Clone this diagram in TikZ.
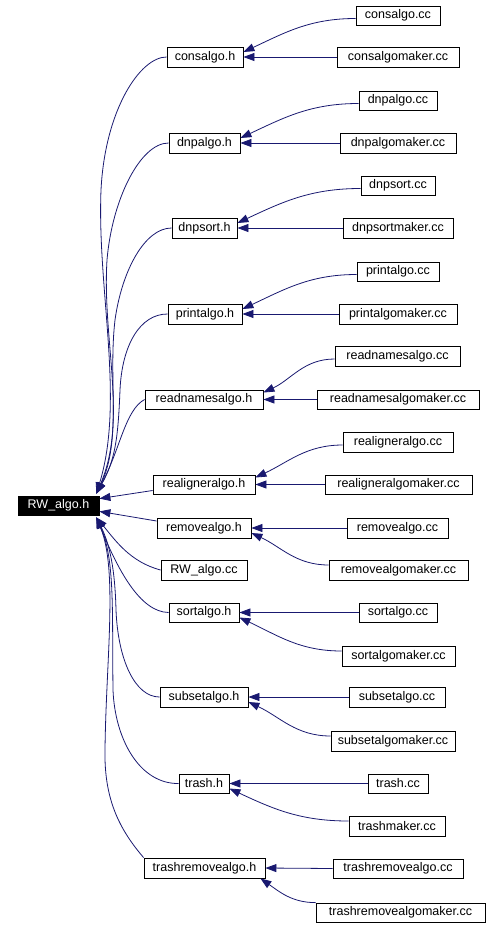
\documentclass[tikz,border=0pt]{standalone}
\usepackage{fontspec}
\setmainfont{Liberation Sans}
\usetikzlibrary{arrows.meta}
\definecolor{edgeblue}{RGB}{25,25,112}
\tikzset{
  box/.style={draw=black, line width=0.8pt, inner sep=0pt, font=\fontsize{12.5}{14}\selectfont},
  rootbox/.style={box, fill=black, text=white},
  edge/.style={draw=edgeblue, line width=0.8pt, -{Triangle[length=11pt,width=8pt]}},
}
\newcommand{\bx}[7][box]{\node[#1, minimum width={#5pt-#3pt}, minimum height={#6pt-#4pt}] (#2) at ({(#3+#5)/2},{(#4+#6)/2}) {#7};}
\begin{document}
\begin{tikzpicture}[x=1pt,y=-1pt]
\useasboundingbox (0,0) rectangle (497,926);
% root
\bx[rootbox]{rw}{18}{496}{99}{515}{RW\_algo.h}
% middle column
\bx{consh}{167}{47}{243}{67}{consalgo.h}
\bx{dnpah}{169}{133}{240}{153}{dnpalgo.h}
\bx{dnpsh}{172}{218}{237}{238}{dnpsort.h}
\bx{printh}{168}{304}{242}{324}{printalgo.h}
\bx{readh}{145}{390}{263}{409}{readnamesalgo.h}
\bx{realh}{153}{475}{255}{494}{realigneralgo.h}
\bx{removeh}{157}{518}{251}{538}{removealgo.h}
\bx{rwcc}{161}{560}{247}{580}{RW\_algo.cc}
\bx{sorth}{169}{603}{239}{622}{sortalgo.h}
\bx{subseth}{160}{687}{248}{707}{subsetalgo.h}
\bx{trashh}{179}{774}{229}{793}{trash.h}
\bx{trashremh}{144}{858}{265}{878}{trashremovealgo.h}
% right column
\bx{conscc}{356}{6}{440}{25}{consalgo.cc}
\bx{consmk}{337}{47}{459}{67}{consalgomaker.cc}
\bx{dnpacc}{359}{91}{437}{110}{dnpalgo.cc}
\bx{dnpamk}{340}{133}{456}{153}{dnpalgomaker.cc}
\bx{dnpscc}{361}{176}{435}{195}{dnpsort.cc}
\bx{dnpsmk}{343}{218}{453}{238}{dnpsortmaker.cc}
\bx{printcc}{357}{262}{439}{281}{printalgo.cc}
\bx{printmk}{339}{304}{457}{324}{printalgomaker.cc}
\bx{readcc}{335}{346}{460}{366}{readnamesalgo.cc}
\bx{readmk}{317}{390}{479}{409}{readnamesalgomaker.cc}
\bx{realcc}{343}{432}{453}{452}{realigneralgo.cc}
\bx{realmk}{325}{475}{472}{494}{realigneralgomaker.cc}
\bx{removecc}{347}{518}{448}{538}{removealgo.cc}
\bx{removemk}{329}{560}{468}{580}{removealgomaker.cc}
\bx{sortcc}{359}{603}{437}{622}{sortalgo.cc}
\bx{sortmk}{342}{646}{455}{666}{sortalgomaker.cc}
\bx{subsetcc}{349}{687}{445}{707}{subsetalgo.cc}
\bx{subsetmk}{331}{731}{455}{751}{subsetalgomaker.cc}
\bx{trashcc}{368}{774}{428}{793}{trash.cc}
\bx{trashmk}{349}{816}{445}{836}{trashmaker.cc}
\bx{trashremcc}{333}{859}{463}{878}{trashremovealgo.cc}
\bx{trashremmk}{316}{903}{485}{922}{trashremovealgomaker.cc}
% right edges, upper groups (.cc above)
\foreach \cc/\mk/\p/\s in {conscc/consmk/consh/5, dnpacc/dnpamk/dnpah/5, dnpscc/dnpsmk/dnpsh/5, printcc/printmk/printh/5, readcc/readmk/readh/7, realcc/realmk/realh/7}{
  \draw[edge] ([yshift=-3pt]\cc.west) to[out=180,in=25] ([yshift=\s pt]\p.east);
  \draw[edge] (\mk.west) -- (\p.east);
}
% right edges, lower groups (maker below)
\foreach \cc/\mk/\p in {removecc/removemk/removeh, sortcc/sortmk/sorth, subsetcc/subsetmk/subseth, trashcc/trashmk/trashh}{
  \draw[edge] (\cc.west) -- (\p.east);
  \draw[edge] ([yshift=5pt]\mk.west) to[out=180,in=-25] ([yshift=-5pt]\p.east);
}
\draw[edge] (trashremcc.west) -- (trashremh.east);
\draw[edge] (trashremmk.north west) to[out=180,in=-35] ([xshift=-5pt]trashremh.south east);
% left edges, upper bundle
\draw[edge] (consh.west) .. controls (140,57) and (105,110) .. (101,190) .. controls (97,290) and (125,400) .. ([xshift=-3pt,yshift=2pt]rw.north east);
\draw[edge] (dnpah.west) .. controls (140,143) and (112,200) .. (107,260) .. controls (102,340) and (128,420) .. ([xshift=-3pt,yshift=2pt]rw.north east);
\draw[edge] (dnpsh.west) .. controls (145,228) and (122,270) .. (115,320) .. controls (108,380) and (122,440) .. ([xshift=-3pt,yshift=2pt]rw.north east);
\draw[edge] (printh.west) .. controls (140,314) and (122,345) .. (120,390) .. controls (118,440) and (115,460) .. ([xshift=-3pt,yshift=2pt]rw.north east);
\draw[edge] (readh.west) .. controls (125,410) and (120,450) .. ([xshift=-3pt,yshift=2pt]rw.north east);
\draw[edge] ([yshift=-6pt]realh.west) -- ([yshift=-3pt]rw.north east);
\draw[edge] ([yshift=7pt]removeh.west) -- ([yshift=4pt]rw.south east);
% left edges, lower bundle
\draw[edge] (rwcc.west) .. controls (130,562) and (115,540) .. ([xshift=-3pt,yshift=-2pt]rw.south east);
\draw[edge] (sorth.west) .. controls (140,612) and (118,570) .. ([xshift=-3pt,yshift=-2pt]rw.south east);
\draw[edge] (subseth.west) .. controls (135,697) and (118,660) .. (116,610) .. controls (115,570) and (110,545) .. ([xshift=-3pt,yshift=-2pt]rw.south east);
\draw[edge] (trashh.west) .. controls (140,784) and (115,740) .. (113,690) .. controls (112,610) and (115,560) .. ([xshift=-3pt,yshift=-2pt]rw.south east);
\draw[edge] (trashremh.north west) .. controls (120,830) and (104,800) .. (105,750) .. controls (106,660) and (118,570) .. ([xshift=-3pt,yshift=-2pt]rw.south east);
\end{tikzpicture}
\end{document}
